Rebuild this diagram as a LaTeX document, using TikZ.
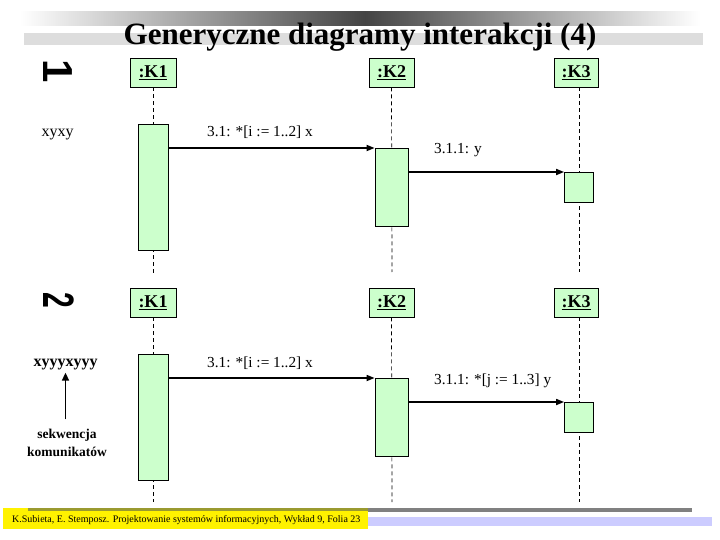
\documentclass[tikz,border=0pt]{standalone}
\usepackage{fontspec}
\setmainfont{Liberation Serif}
\newfontfamily\digitfont{Liberation Sans}
\usetikzlibrary{arrows.meta}
\definecolor{actgreen}{HTML}{CCFFCC}
\definecolor{barlav}{HTML}{CCCCFF}
\definecolor{bargray}{HTML}{808080}
\definecolor{titlegray}{HTML}{444444}
\definecolor{lightbar}{HTML}{DDDDDD}
\definecolor{olivebar}{HTML}{9A9A30}
\begin{document}
\begin{tikzpicture}[x=1pt,y=-1pt,
  objbox/.style={draw=black, line width=0.8pt, fill=actgreen, minimum height=29pt, inner sep=0pt, font=\fontsize{18}{18}\selectfont\bfseries},
  actbar/.style={draw=black, line width=0.8pt, fill=actgreen, inner sep=0pt, anchor=north},
  lifeline/.style={draw=black, dash pattern=on 4pt off 3pt, line width=0.7pt},
  msg/.style={draw=black, line width=1.6pt, -{Triangle[length=8pt,width=6pt]}},
  lbl/.style={anchor=base west, inner sep=0pt, font=\fontsize{15.3}{15.3}\selectfont},
  sidetxt/.style={anchor=base, inner sep=0pt, font=\fontsize{16}{16}\selectfont},
  noteTxt/.style={anchor=base, inner sep=0pt, font=\fontsize{13.5}{13.5}\selectfont\bfseries},
  uparrow/.style={draw=black, line width=1.6pt, -{Triangle[length=8pt,width=7pt]}}
]
\useasboundingbox (0,0) rectangle (720,540);
\fill[white] (0,0) rectangle (720,540);

% title bars
\shade[left color=white, right color=titlegray] (20,12) rectangle (365,26);
\shade[left color=titlegray, right color=white] (365,12) rectangle (700,26);
\fill[lightbar] (24,33) rectangle (703,45);
\node[anchor=base, inner sep=0pt, font=\fontsize{31}{31}\selectfont\bfseries] (title) at (360,45) {Generyczne diagramy interakcji (4)};

% ===== diagram 1 =====
\node (num1) at (58,71) {\rotatebox{-90}{\digitfont\bfseries\fontsize{42}{42}\selectfont 1}};
\node[sidetxt] (seq1) at (57.5,137) {xyxy};

\coordinate (e1) at (153,274);
\coordinate (e2) at (392,272);
\coordinate (e3) at (579,272);
\node[objbox, minimum width=46pt] (k1) at (153,72.5) {\underline{:K1}};
\node[objbox, minimum width=45pt] (k2) at (391.5,72.5) {\underline{:K2}};
\node[objbox, minimum width=44pt] (k3) at (576,72.5) {\underline{:K3}};
\draw[lifeline] (k1.south) -- (e1);
\draw[lifeline] (k2.south) -- (e2);
\draw[lifeline] (k3.south -| e3) -- (e3);
\node[actbar, minimum width=30pt, minimum height=126pt] (a1) at (153,124) {};
\node[actbar, minimum width=33pt, minimum height=78pt] (a2) at (391.5,148) {};
\node[actbar, minimum width=29pt, minimum height=30pt] (a3) at (579,172) {};
\draw[msg] (a1.east |- a2.north) -- (a2.north west);
\draw[msg] (a2.east |- a3.north) -- (a3.north west);
\node[lbl] (m1) at (207,137) {3.1: *[i := 1..2] x};
\node[lbl] (m2) at (434,154) {3.1.1: y};

% ===== diagram 2 =====
\node (num2) at (59,300) {\rotatebox{-90}{\scalebox{0.64}[1]{\digitfont\bfseries\fontsize{44}{44}\selectfont 2}}};
\node[sidetxt, font=\fontsize{16}{16}\selectfont\bfseries] (seq2) at (65.5,366) {xyyyxyyy};
\node[noteTxt] (note1) at (67,438) {sekwencja};
\node[noteTxt] (note2) at (67,456) {komunikatów};
\draw[uparrow, shorten <=9pt, shorten >=3pt] (note1.north -| seq2.south) -- (seq2.south);

\coordinate (f1) at (153,502);
\coordinate (f2) at (392,502);
\coordinate (f3) at (579,502);
\node[objbox, minimum width=46pt] (q1) at (153,302.5) {\underline{:K1}};
\node[objbox, minimum width=45pt] (q2) at (391.5,302.5) {\underline{:K2}};
\node[objbox, minimum width=44pt] (q3) at (576,302.5) {\underline{:K3}};
\draw[lifeline] (q1.south) -- (f1);
\draw[lifeline] (q2.south) -- (f2);
\draw[lifeline] (q3.south -| f3) -- (f3);
\node[actbar, minimum width=30pt, minimum height=126pt] (b1) at (153,354) {};
\node[actbar, minimum width=33pt, minimum height=78pt] (b2) at (391.5,378) {};
\node[actbar, minimum width=29pt, minimum height=30pt] (b3) at (579,402) {};
\draw[msg] (b1.east |- b2.north) -- (b2.north west);
\draw[msg] (b2.east |- b3.north) -- (b3.north west);
\node[lbl] (n1) at (207,367) {3.1: *[i := 1..2] x};
\node[lbl] (n2) at (434,384) {3.1.1: *[j := 1..3] y};

% ===== footer =====
\fill[bargray] (28,508) rectangle (692,512);
\fill[barlav] (368,517) rectangle (712,526);
\fill[yellow] (3,508) rectangle (368,529);
\fill[olivebar] (28,508) rectangle (368,510.5);
\node[anchor=base west, inner sep=0pt, font=\fontsize{10}{10}\selectfont] (foot) at (12,522) {K.Subieta, E. Stemposz. Projektowanie systemów informacyjnych, Wykład 9, Folia 23};
\end{tikzpicture}
\end{document}
